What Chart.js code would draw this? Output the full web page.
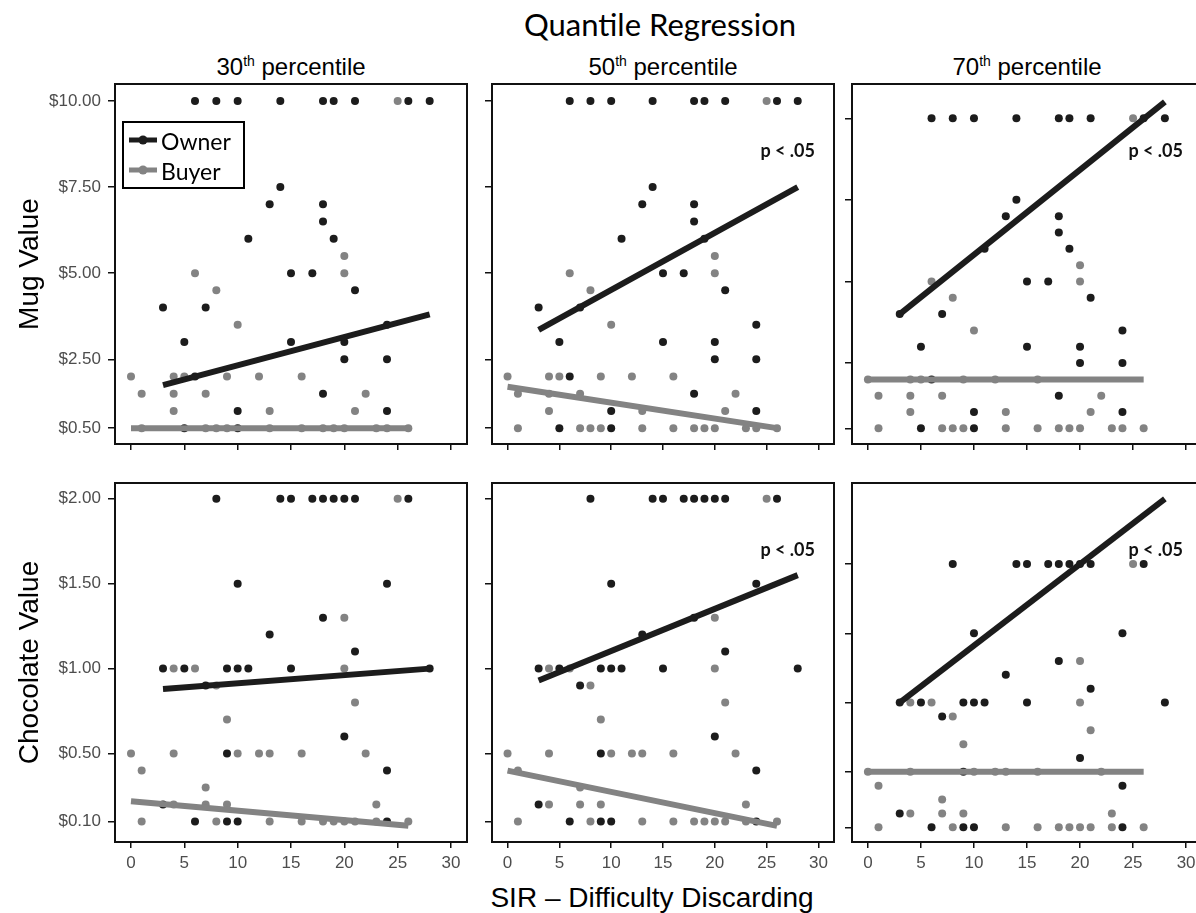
<!DOCTYPE html>
<html>
<head>
<meta charset="utf-8">
<script src="https://cdn.jsdelivr.net/npm/chart.js@4.4.1/dist/chart.umd.min.js"></script>
<style>
  html, body { margin: 0; padding: 0; background: #fff; }
  body { position: relative; width: 1196px; height: 913px; overflow: hidden; }
  canvas { position: absolute; }
  .lbl { position: absolute; white-space: nowrap; color: #000; line-height: 1; transform: translateX(-50%); }
  .strip { font-family: 'Liberation Sans', Arial, sans-serif; font-size: 24px; top: 55px; }
  .strip sup { font-size: 14px; vertical-align: 9px; line-height: 0; }
</style>
</head>
<body>
<div class="lbl" style="left:660px; top:5px; font:31px Lato, 'Open Sans', sans-serif;">Quantile Regression</div>
<div class="lbl" style="left:652px; top:882px; font:28px 'Liberation Sans', Arial, sans-serif;">SIR – Difficulty Discarding</div>
<script>
// --- data ---
const percentiles = ['30', '50', '70'];
const rowTitles = ['Mug Value', 'Chocolate Value'];
const groups = ['Owner', 'Buyer'];
const xTickVals = [0, 5, 10, 15, 20, 25, 30];
const mugTickVals = [0.5, 2.5, 5, 7.5, 10];
const chocTickVals = [0.1, 0.5, 1, 1.5, 2];

// [SIR score, value]
const mugOwner = [
  [6, 10], [8, 10], [10, 10], [14, 10], [18, 10], [19, 10], [21, 10], [26, 10], [28, 10],
  [14, 7.5], [13, 7], [18, 7], [18, 6.5], [11, 6], [19, 6], [15, 5], [17, 5], [21, 4.5],
  [3, 4], [7, 4], [24, 3.5], [5, 3], [15, 3], [20, 3], [20, 2.5], [24, 2.5], [6, 2],
  [18, 1.5], [10, 1], [24, 1], [5, 0.5], [10, 0.5]
];
const mugBuyer = [
  [25, 10], [20, 5.5], [6, 5], [20, 5], [8, 4.5], [10, 3.5],
  [0, 2], [4, 2], [5, 2], [9, 2], [12, 2], [16, 2],
  [1, 1.5], [4, 1.5], [7, 1.5], [22, 1.5], [4, 1], [13, 1], [21, 1],
  [1, 0.5], [7, 0.5], [8, 0.5], [9, 0.5], [13, 0.5], [16, 0.5], [18, 0.5], [19, 0.5],
  [20, 0.5], [23, 0.5], [24, 0.5], [26, 0.5]
];
const chocOwner = [
  [8, 2], [14, 2], [15, 2], [17, 2], [18, 2], [19, 2], [20, 2], [21, 2], [26, 2],
  [10, 1.5], [24, 1.5], [18, 1.3], [13, 1.2], [21, 1.1],
  [3, 1], [5, 1], [9, 1], [10, 1], [11, 1], [15, 1], [28, 1],
  [7, 0.9], [20, 0.6], [9, 0.5], [24, 0.4], [3, 0.2], [6, 0.1], [9, 0.1], [10, 0.1], [24, 0.1]
];
const chocBuyer = [
  [25, 2], [20, 1.3], [4, 1], [6, 1], [20, 1], [8, 0.9], [21, 0.8], [9, 0.7],
  [0, 0.5], [4, 0.5], [10, 0.5], [12, 0.5], [13, 0.5], [16, 0.5], [22, 0.5],
  [1, 0.4], [7, 0.3], [4, 0.2], [7, 0.2], [9, 0.2], [23, 0.2],
  [1, 0.1], [8, 0.1], [13, 0.1], [16, 0.1], [18, 0.1], [19, 0.1], [20, 0.1], [21, 0.1], [23, 0.1], [26, 0.1]
];

// fitted quantile lines per percentile: [x0, y0, x1, y1]
const mugOwnerFit = [[3, 1.75, 28, 3.8], [3, 3.35, 28, 7.5], [3, 4.0, 28, 10.5]];
const mugBuyerFit = [[0, 0.5, 26, 0.5], [0, 1.7, 26, 0.5], [0, 2.0, 26, 2.0]];
const chocOwnerFit = [[3, 0.88, 28, 1.0], [3, 0.93, 28, 1.55], [3, 1.0, 28, 2.47]];
const chocBuyerFit = [[0, 0.22, 26, 0.075], [0, 0.40, 26, 0.075], [0, 0.5, 26, 0.5]];

// owner slope significant?
const mugSig = [false, true, true];
const chocSig = [false, true, true];

// --- layout / style ---
const colLeft = [115, 492, 852], colRight = [467, 834, 1202];
const rowTop = [84, 483], rowBottom = [444, 842];
const mugRange = [[0.04, 10.49], [0.04, 10.49], [0.02, 11.05]];
const chocRange = [[-0.02, 2.092], [-0.02, 2.092], [-0.006, 2.584]];
const OWNER = '#1c1c1c', BUYER = '#838383';
const SANS = "'Liberation Sans', Arial, sans-serif";
const CAL = "Lato, 'Open Sans', sans-serif";

const rows = [
  { title: rowTitles[0], ticks: mugTickVals, range: mugRange, owner: mugOwner, buyer: mugBuyer, ownerFit: mugOwnerFit, buyerFit: mugBuyerFit, sig: mugSig },
  { title: rowTitles[1], ticks: chocTickVals, range: chocRange, owner: chocOwner, buyer: chocBuyer, ownerFit: chocOwnerFit, buyerFit: chocBuyerFit, sig: chocSig }
];

const toPts = arr => arr.map(p => ({ x: p[0], y: p[1] }));
const fitPts = f => [{ x: f[0], y: f[1] }, { x: f[2], y: f[3] }];

// box, legend and "p < .05" note
const panelDecor = {
  id: 'panelDecor',
  afterDraw(chart, args, opts) {
    const { ctx, chartArea: a } = chart;
    ctx.save();
    ctx.strokeStyle = '#111';
    ctx.lineWidth = 2;
    ctx.strokeRect(a.left, a.top, a.right - a.left, a.bottom - a.top);
    if (opts.sig) {
      ctx.fillStyle = '#111';
      ctx.font = 'bold 18px ' + CAL;
      ctx.textAlign = 'right';
      ctx.textBaseline = 'middle';
      ctx.fillText('p < .05', a.right - 19, a.top + 67);
    }
    if (opts.legend) {
      const x = a.left + 8, y = a.top + 38;
      ctx.fillStyle = '#fff';
      ctx.fillRect(x, y, 121, 66);
      ctx.strokeStyle = '#000';
      ctx.strokeRect(x, y, 121, 66);
      [OWNER, BUYER].forEach((col, i) => {
        const ly = y + 18 + i * 30;
        ctx.strokeStyle = col;
        ctx.lineWidth = 5;
        ctx.beginPath();
        ctx.moveTo(x + 6, ly);
        ctx.lineTo(x + 34, ly);
        ctx.stroke();
        ctx.fillStyle = col;
        ctx.beginPath();
        ctx.arc(x + 20, ly, 4.5, 0, Math.PI * 2);
        ctx.fill();
        ctx.fillStyle = '#000';
        ctx.font = '23px ' + CAL;
        ctx.textAlign = 'left';
        ctx.textBaseline = 'middle';
        ctx.fillText(groups[i], x + 38, ly + 3);
      });
    }
    ctx.restore();
  }
};

// strip titles
percentiles.forEach((p, c) => {
  const d = document.createElement('div');
  d.className = 'lbl strip';
  d.style.left = ((colLeft[c] + colRight[c]) / 2) + 'px';
  d.innerHTML = p + '<sup>th</sup> percentile';
  document.body.appendChild(d);
});

rows.forEach((row, r) => {
  percentiles.forEach((p, c) => {
    const yW = c === 0 ? 115 : 12;
    const xH = r === 1 ? 40 : 14;
    const padT = 4, padR = 4;
    const cv = document.createElement('canvas');
    const w = colRight[c] - colLeft[c] + yW + padR;
    const h = rowBottom[r] - rowTop[r] + padT + xH;
    cv.width = w; cv.height = h;
    cv.style.left = (colLeft[c] - yW) + 'px';
    cv.style.top = (rowTop[r] - padT) + 'px';
    cv.style.width = w + 'px'; cv.style.height = h + 'px';
    document.body.appendChild(cv);

    new Chart(cv, {
      type: 'scatter',
      data: {
        datasets: [
          { type: 'line', data: fitPts(row.ownerFit[c]), borderColor: OWNER, borderWidth: 6, borderCapStyle: 'butt', pointRadius: 0, fill: false, order: 0 },
          { type: 'line', data: fitPts(row.buyerFit[c]), borderColor: BUYER, borderWidth: 6, borderCapStyle: 'butt', pointRadius: 0, fill: false, order: 0 },
          { type: 'scatter', data: toPts(row.owner), pointBackgroundColor: OWNER, pointBorderWidth: 0, pointRadius: 4, order: 1 },
          { type: 'scatter', data: toPts(row.buyer), pointBackgroundColor: BUYER, pointBorderWidth: 0, pointRadius: 4, order: 1 }
        ]
      },
      options: {
        responsive: false,
        animation: false,
        events: [],
        layout: { padding: { left: 0, top: padT, right: padR, bottom: 0 } },
        plugins: {
          legend: { display: false },
          tooltip: { enabled: false },
          panelDecor: { sig: row.sig[c], legend: r === 0 && c === 0 }
        },
        scales: {
          x: {
            type: 'linear', min: -1.5, max: 31.5,
            afterBuildTicks: s => { s.ticks = xTickVals.map(v => ({ value: v })); },
            afterFit: s => { s.height = xH; s.paddingLeft = 0; s.paddingRight = 0; },
            border: { display: false },
            grid: { drawOnChartArea: false, tickLength: 6, color: '#111', lineWidth: 1.5 },
            ticks: {
              autoSkip: false, maxRotation: 0, padding: 5, color: '#4d4d4d',
              font: { family: SANS, size: 17 },
              callback: v => r === 1 ? String(v) : ''
            }
          },
          y: {
            type: 'linear', min: row.range[c][0], max: row.range[c][1],
            afterBuildTicks: s => { s.ticks = row.ticks.map(v => ({ value: v })); },
            afterFit: s => { s.width = yW; s.paddingTop = 0; s.paddingBottom = 0; },
            border: { display: false },
            grid: { drawOnChartArea: false, tickLength: 7, color: '#111', lineWidth: 1.5 },
            ticks: {
              autoSkip: false, padding: 7, color: '#4d4d4d',
              font: { family: SANS, size: 17 },
              callback: v => c === 0 ? '$' + v.toFixed(2) : ''
            },
            title: { display: c === 0, text: row.title, color: '#000', font: { family: SANS, size: 28 }, padding: { top: 13 } }
          }
        }
      },
      plugins: [panelDecor]
    });
  });
});
</script>
</body>
</html>
